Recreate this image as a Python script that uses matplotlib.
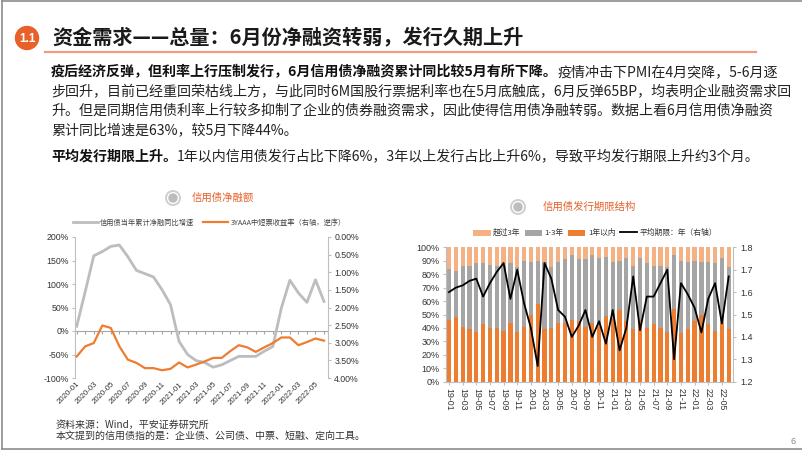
import matplotlib
matplotlib.use('Agg')
import matplotlib.pyplot as plt
from matplotlib.patches import Ellipse
import numpy as np

plt.rcParams['font.family'] = ['Noto Sans CJK SC', 'DejaVu Sans']
NUMF = ['Liberation Sans', 'Noto Sans CJK SC']

# ---------------- data: left chart ----------------
left_months = ['2020-01', '2020-02', '2020-03', '2020-04', '2020-05', '2020-06',
               '2020-07', '2020-08', '2020-09', '2020-10', '2020-11', '2020-12',
               '2021-01', '2021-02', '2021-03', '2021-04', '2021-05', '2021-06',
               '2021-07', '2021-08', '2021-09', '2021-10', '2021-11', '2021-12',
               '2022-01', '2022-02', '2022-03', '2022-04', '2022-05', '2022-06']
net_growth = [10, 84, 160, 169, 180, 183, 158, 129, 122, 115, 88, 56,
              -22, -50, -63, -67, -77, -72, -63, -54, -54, -54, -43, -33,
              49, 108, 81, 61, 109, 63]
yield_3y = [3.39, 3.10, 3.01, 2.51, 2.58, 3.10, 3.48, 3.57, 3.72, 3.72, 3.78, 3.74,
            3.56, 3.70, 3.62, 3.53, 3.43, 3.43, 3.24, 3.07, 3.13, 3.26, 3.13, 3.01,
            2.85, 2.85, 3.07, 2.98, 2.88, 2.94]
left_yticks = [-100, -50, 0, 50, 100, 150, 200]
right_yticks = [0.0, 0.5, 1.0, 1.5, 2.0, 2.5, 3.0, 3.5, 4.0]

# ---------------- data: right chart ----------------
right_months = ['19-01', '19-02', '19-03', '19-04', '19-05', '19-06', '19-07', '19-08',
                '19-09', '19-10', '19-11', '19-12', '20-01', '20-02', '20-03', '20-04',
                '20-05', '20-06', '20-07', '20-08', '20-09', '20-10', '20-11', '20-12',
                '21-01', '21-02', '21-03', '21-04', '21-05', '21-06', '21-07', '21-08',
                '21-09', '21-10', '21-11', '21-12', '22-01', '22-02', '22-03', '22-04',
                '22-05', '22-06']
share_short = [46, 48, 41, 39, 37, 43, 40, 40, 38, 44, 37, 41, 50, 58, 39, 40, 44, 44,
               46, 45, 41, 44, 41, 49, 47, 53, 45, 39, 46, 40, 43, 40, 37, 54, 36, 39,
               45, 50, 43, 38, 44, 39]
share_mid = [38, 34, 45, 47, 51, 45, 47, 46, 48, 44, 48, 49, 39, 32, 50, 45, 45, 47,
             48, 46, 50, 50, 51, 44, 42, 37, 47, 47, 46, 48, 43, 46, 48, 40, 54, 50,
             45, 39, 46, 50, 48, 46]
share_long = [16, 18, 14, 14, 12, 12, 13, 14, 14, 12, 15, 10, 11, 10, 11, 15, 11, 9,
              6, 9, 9, 6, 8, 7, 11, 10, 8, 14, 8, 12, 14, 14, 15, 6, 10, 11,
              10, 11, 11, 12, 8, 15]
avg_tenor = [1.60, 1.62, 1.63, 1.65, 1.66, 1.58, 1.64, 1.69, 1.73, 1.57, 1.70, 1.55,
             1.44, 1.27, 1.73, 1.66, 1.52, 1.49, 1.40, 1.45, 1.52, 1.40, 1.47, 1.37,
             1.52, 1.34, 1.44, 1.67, 1.43, 1.58, 1.58, 1.64, 1.70, 1.30, 1.64, 1.59,
             1.53, 1.42, 1.57, 1.64, 1.46, 1.67]

# ---------------- texts ----------------
title = '资金需求——总量：6月份净融资转弱，发行久期上升'
body = [
    ('疫后经济反弹，但利率上行压制发行，6月信用债净融资累计同比较5月有所下降。',
     '疫情冲击下PMI在4月突降，5-6月逐'),
    ('', '步回升，目前已经重回荣枯线上方，与此同时6M国股行票据利率也在5月底触底，6月反弹65BP，均表明企业融资需求回'),
    ('', '升。但是同期信用债利率上行较多抑制了企业的债券融资需求，因此使得信用债净融转弱。数据上看6月信用债净融资'),
    ('', '累计同比增速是63%，较5月下降44%。'),
    ('平均发行期限上升。', '1年以内信用债发行占比下降6%，3年以上发行占比上升6%，导致平均发行期限上升约3个月。'),
]
body_y = [72, 92, 111, 130, 157]
notes = ['资料来源：Wind，平安证券研究所', '本文提到的信用债指的是：企业债、公司债、中票、短融、定向工具。']

ORANGE = '#ED7D31'
GRAY = '#A5A5A5'
PEACH = '#F4B183'
TITLE_RED = '#E4602B'
AXC = '#BFBFBF'

W, H = 802, 451
fig = plt.figure(figsize=(W / 100, H / 100), dpi=100)
bg = fig.add_axes([0, 0, 1, 1])
bg.set_xlim(0, W)
bg.set_ylim(H, 0)
bg.axis('off')

def fx(x):
    return x / W

def fy(y):
    return 1 - y / H

# frame
bg.plot([2, 2], [1, 449], color='#8C8C8C', lw=1.2)
bg.plot([2, W], [1, 1], color='#8C8C8C', lw=1.2)
bg.plot([2, W], [449, 449], color='#8C8C8C', lw=1.2)

# title block
bg.add_patch(Ellipse((27, 38), 23, 23, color='#E8602A'))
bg.text(27, 38.5, '1.1', color='white', fontsize=8.5, weight='bold', ha='center', va='center',
        family=NUMF)
bg.text(52, 38, title, fontsize=14.5, weight='bold', color='#1a1a1a', va='center')
bg.plot([45, 756], [52, 52], color='#EE9E80', lw=1.6)

# body text
for (b, n), y in zip(body, body_y):
    if b:
        t1 = bg.text(51, y, b, fontsize=10.1, weight='bold', color='#111111', va='center')
        bg.annotate(n, xy=(1, 0.5), xycoords=t1, fontsize=10.1, color='#222222',
                    va='center', ha='left')
    else:
        bg.text(51, y, n, fontsize=10.1, color='#222222', va='center')

# notes
bg.text(56, 425, notes[0], fontsize=7.2, color='#333333', va='center')
bg.text(56, 435.5, notes[1], fontsize=7.2, color='#333333', va='center')
bg.text(793, 441, '6', fontsize=6.5, color='#888888', va='center', ha='center', family=NUMF)

# chart title icons
def icon(cx, cy):
    bg.add_patch(Ellipse((cx, cy), 14, 14, facecolor='white', edgecolor='#CFCFCF', lw=1.4))
    bg.add_patch(Ellipse((cx, cy), 8, 8, color='#BDBDBD'))

icon(173, 198)
bg.text(192, 198, '信用债净融额', fontsize=7.5, color=TITLE_RED, va='center')
icon(518, 207)
bg.text(543, 207, '信用债发行期限结构', fontsize=7.5, color=TITLE_RED, va='center')

# ---------------- left chart ----------------
axL = fig.add_axes([fx(75), fy(378), fx(328) - fx(75), fy(237) - fy(378)])
xL = np.arange(len(left_months))
l1, = axL.plot(xL, net_growth, color='#BDBDBD', lw=2.0, label='信用债当年累计净融同比增速')
axL.set_ylim(-100, 200)
axL.set_xlim(-0.2, len(left_months) - 0.53)
axL.set_yticks(left_yticks)
axL.set_yticklabels([f'{v}%' for v in left_yticks], fontsize=6.3, family=NUMF, color='#333333')
axL.set_xticks(xL[::2])
axL.set_xticklabels(left_months[::2], rotation=45, ha='right', rotation_mode='anchor',
                    fontsize=5.6, family=NUMF, color='#333333')
axL.tick_params(axis='x', length=0, pad=2)
axL.tick_params(axis='y', length=2.5, color=AXC, pad=2)
for s in ['top', 'bottom', 'right']:
    axL.spines[s].set_visible(False)
axL.spines['left'].set_color(AXC)
axL.axhline(0, color='#A6A6A6', lw=0.8, zorder=0)
sec = axL.secondary_xaxis(1 / 3)
sec.set_xticks(xL)
sec.set_xticklabels([])
sec.tick_params(length=2, color='#A6A6A6')
sec.spines['bottom'].set_visible(False)
sec.spines['top'].set_visible(False)
axL.patch.set_alpha(0)

axR = axL.twinx()
l2, = axR.plot(xL, yield_3y, color=ORANGE, lw=1.6, label='3YAAA中短票收益率（右轴，逆序）')
axR.set_ylim(4.0, 0.0)
axR.set_yticks(right_yticks)
axR.set_yticklabels([f'{v:.2f}%' for v in right_yticks], fontsize=6.3, family=NUMF, color='#333333')
axR.tick_params(axis='y', length=2.5, color=AXC, pad=2)
for s in ['top', 'bottom', 'left']:
    axR.spines[s].set_visible(False)
axR.spines['right'].set_color(AXC)
axR.set_xlim(axL.get_xlim())
axL.legend(handles=[l1, l2], loc='center', bbox_to_anchor=(0.53, 1.10), ncol=2,
           frameon=False, fontsize=5.2, handlelength=3.5, columnspacing=1.2, handletextpad=0.3,
           labelcolor='#444444')

# ---------------- right chart ----------------
axB = fig.add_axes([fx(446), fy(381.7), fx(733) - fx(446), fy(247.3) - fy(381.7)])
xB = np.arange(len(right_months))
s_short = np.array(share_short)
s_mid = np.array(share_mid)
s_long = np.array(share_long)
b1 = axB.bar(xB, s_short, width=0.62, color=ORANGE, label='1年以内')
b2 = axB.bar(xB, s_mid, bottom=s_short, width=0.62, color=GRAY, label='1-3年')
b3 = axB.bar(xB, s_long, bottom=s_short + s_mid, width=0.62, color=PEACH, label='超过3年')
axB.set_ylim(0, 100)
axB.set_xlim(-0.44, len(right_months) - 1 + 0.63)
yt = list(range(0, 101, 10))
axB.set_yticks(yt)
axB.set_yticklabels([f'{v}%' for v in yt], fontsize=6.5, family=NUMF, color='#333333')
axB.set_xticks(xB[::2])
axB.set_xticklabels(right_months[::2], rotation=-90, ha='center', va='top',
                    fontsize=6.3, family=NUMF, color='#333333')
axB.tick_params(axis='x', length=2.5, color=AXC, pad=2)
axB.tick_params(axis='y', length=2.5, color=AXC, pad=2)
axB.spines['top'].set_visible(False)
axB.spines['right'].set_visible(False)
axB.spines['left'].set_color(AXC)
axB.spines['bottom'].set_color(AXC)

axB2 = axB.twinx()
ln, = axB2.plot(xB, avg_tenor, color='black', lw=1.3, label='平均期限：年（右轴）')
axB2.set_ylim(1.2, 1.8)
rt = [1.2, 1.3, 1.4, 1.5, 1.6, 1.7, 1.8]
axB2.set_yticks(rt)
axB2.set_yticklabels([f'{v:.1f}' for v in rt], fontsize=6.5, family=NUMF, color='#333333')
axB2.tick_params(axis='y', length=2.5, color=AXC, pad=3)
for s in ['top', 'left', 'bottom']:
    axB2.spines[s].set_visible(False)
axB2.spines['right'].set_color(AXC)
axB.legend(handles=[b3, b2, b1, ln], loc='center', bbox_to_anchor=(0.52, 1.105), ncol=4,
           frameon=False, fontsize=5.6, handlelength=2.2, handleheight=0.8,
           columnspacing=0.6, handletextpad=0.3, labelcolor='#333333')

fig.savefig('out.png', dpi=100)
